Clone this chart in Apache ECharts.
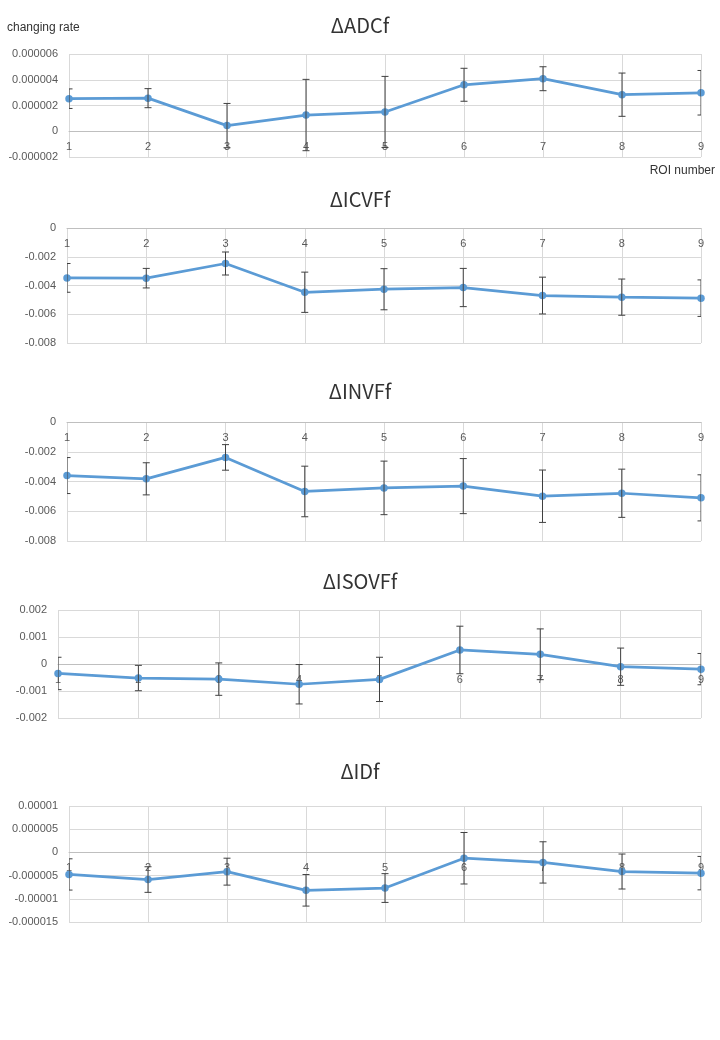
<!DOCTYPE html>
<html>
<head>
<meta charset="utf-8">
<script src="https://cdn.jsdelivr.net/npm/echarts@6/dist/echarts.min.js"></script>
<style>
html,body{margin:0;padding:0;background:#ffffff;}
#c{width:720px;height:1040px;}
</style>
</head>
<body>
<div id="c"></div>
<script>
// ---------- data ----------
const categories = ['1', '2', '3', '4', '5', '6', '7', '8', '9'];
const chartTitles = ['\u0394ADCf', '\u0394ICVFf', '\u0394INVFf', '\u0394ISOVFf', '\u0394IDf'];
const yAxisTitle = 'changing rate';
const xAxisTitle = 'ROI number';

const adcMean = [0.00000253, 0.00000257, 0.00000044, 0.00000126, 0.00000150, 0.00000361, 0.00000408, 0.00000284, 0.00000299];
const adcErr  = [0.00000076, 0.00000074, 0.00000172, 0.00000277, 0.00000276, 0.00000128, 0.00000093, 0.00000168, 0.00000173];
const adcTicks = [-0.000002, 0, 0.000002, 0.000004, 0.000006];

const icvfMean = [-0.00347, -0.00349, -0.00247, -0.00447, -0.00426, -0.00414, -0.00470, -0.00481, -0.00488];
const icvfErr  = [0.00100, 0.00068, 0.00080, 0.00140, 0.00143, 0.00133, 0.00128, 0.00126, 0.00127];
const icvfTicks = [-0.008, -0.006, -0.004, -0.002, 0];

const invfMean = [-0.00360, -0.00382, -0.00238, -0.00467, -0.00443, -0.00431, -0.00499, -0.00479, -0.00510];
const invfErr  = [0.00121, 0.00108, 0.00086, 0.00170, 0.00180, 0.00185, 0.00176, 0.00162, 0.00155];
const invfTicks = [-0.008, -0.006, -0.004, -0.002, 0];

const isovfMean = [-0.00035, -0.00052, -0.00056, -0.00075, -0.00057, 0.00052, 0.00036, -0.00010, -0.00019];
const isovfErr  = [0.00060, 0.00047, 0.00060, 0.00073, 0.00082, 0.00088, 0.00094, 0.00069, 0.00058];
const isovfTicks = [-0.002, -0.001, 0, 0.001, 0.002];

const idfMean = [-0.00000475, -0.00000585, -0.00000415, -0.00000817, -0.00000768, -0.00000126, -0.00000216, -0.00000412, -0.00000447];
const idfErr  = [0.00000337, 0.00000276, 0.00000290, 0.00000340, 0.00000310, 0.00000555, 0.00000445, 0.00000377, 0.00000360];
const idfTicks = [-0.000015, -0.00001, -0.000005, 0, 0.000005, 0.00001];

// ---------- layout ----------
const panels = [
  {mean: adcMean,   err: adcErr,   ticks: adcTicks,   top: 54,  height: 103, left: 69, titleTop: 15},
  {mean: icvfMean,  err: icvfErr,  ticks: icvfTicks,  top: 228, height: 115, left: 67, titleTop: 189},
  {mean: invfMean,  err: invfErr,  ticks: invfTicks,  top: 422, height: 119, left: 67, titleTop: 381},
  {mean: isovfMean, err: isovfErr, ticks: isovfTicks, top: 610, height: 108, left: 58, titleTop: 571},
  {mean: idfMean,   err: idfErr,   ticks: idfTicks,   top: 806, height: 116, left: 69, titleTop: 761}
];

const LABEL_FONT = 'Liberation Sans, Arial, sans-serif';
const TITLE_FONT = 'Noto Sans CJK JP, sans-serif';

function fmt(v) {
  const r = Math.round(v * 1e9) / 1e9;
  return r === 0 ? '0' : String(r);
}

function errRender(params, api) {
  const i = api.value(0);
  const lo = api.coord([i, api.value(1)]);
  const hi = api.coord([i, api.value(2)]);
  const hw = 3.5;
  const style = {stroke: '#404040', lineWidth: 1};
  return {
    type: 'group',
    children: [
      {type: 'line', shape: {x1: hi[0], y1: hi[1], x2: lo[0], y2: lo[1]}, style: style},
      {type: 'line', shape: {x1: hi[0] - hw, y1: hi[1], x2: hi[0] + hw, y2: hi[1]}, style: style},
      {type: 'line', shape: {x1: lo[0] - hw, y1: lo[1], x2: lo[0] + hw, y2: lo[1]}, style: style}
    ]
  };
}

const grid = [], xAxis = [], yAxis = [], series = [], title = [];
panels.forEach(function (p, k) {
  const yMin = p.ticks[0], yMax = p.ticks[p.ticks.length - 1];
  const zeroOffset = -p.height * (0 - yMin) / (yMax - yMin);
  grid.push({left: p.left, right: 19, top: p.top, height: p.height});
  title.push({
    text: chartTitles[k], left: 'center', top: p.titleTop, padding: 0,
    textStyle: {fontFamily: TITLE_FONT, fontSize: 20, fontWeight: 'normal', color: '#333333'}
  });
  xAxis.push({
    type: 'category', gridIndex: k, data: categories, boundaryGap: false,
    position: 'bottom', offset: zeroOffset,
    axisLine: {show: true, onZero: false, lineStyle: {color: '#bfbfbf', width: 1}},
    axisTick: {show: false},
    axisLabel: {color: '#595959', fontSize: 11, fontFamily: LABEL_FONT, margin: 10, interval: 0},
    splitLine: {show: true, lineStyle: {color: '#d9d9d9', width: 1}}
  });
  yAxis.push({
    type: 'value', gridIndex: k,
    min: yMin, max: yMax, interval: p.ticks[1] - p.ticks[0],
    axisLine: {show: false}, axisTick: {show: false},
    axisLabel: {color: '#595959', fontSize: 11, fontFamily: LABEL_FONT, margin: 11, formatter: fmt},
    splitLine: {show: true, lineStyle: {color: '#d9d9d9', width: 1}}
  });
  series.push({
    type: 'line', xAxisIndex: k, yAxisIndex: k, data: p.mean,
    symbol: 'circle', symbolSize: 7.5, z: 2,
    lineStyle: {color: '#5B9BD5', width: 2.75},
    itemStyle: {color: '#5B9BD5'},
    animation: false
  });
  series.push({
    type: 'custom', xAxisIndex: k, yAxisIndex: k, z: 3, clip: true,
    renderItem: errRender,
    data: p.mean.map(function (m, i) { return [i, m - p.err[i], m + p.err[i]]; }),
    animation: false
  });
});

const chart = echarts.init(document.getElementById('c'), null, {renderer: 'canvas'});
chart.setOption({
  animation: false,
  backgroundColor: '#ffffff',
  title: title,
  grid: grid,
  xAxis: xAxis,
  yAxis: yAxis,
  series: series,
  graphic: [
    {type: 'text', left: 7, top: 22, style: {text: yAxisTitle, fontSize: 12, fontFamily: LABEL_FONT, fill: '#333333'}},
    {type: 'text', right: 5, top: 165, style: {text: xAxisTitle, fontSize: 12, fontFamily: LABEL_FONT, fill: '#333333'}}
  ]
});
</script>
</body>
</html>
